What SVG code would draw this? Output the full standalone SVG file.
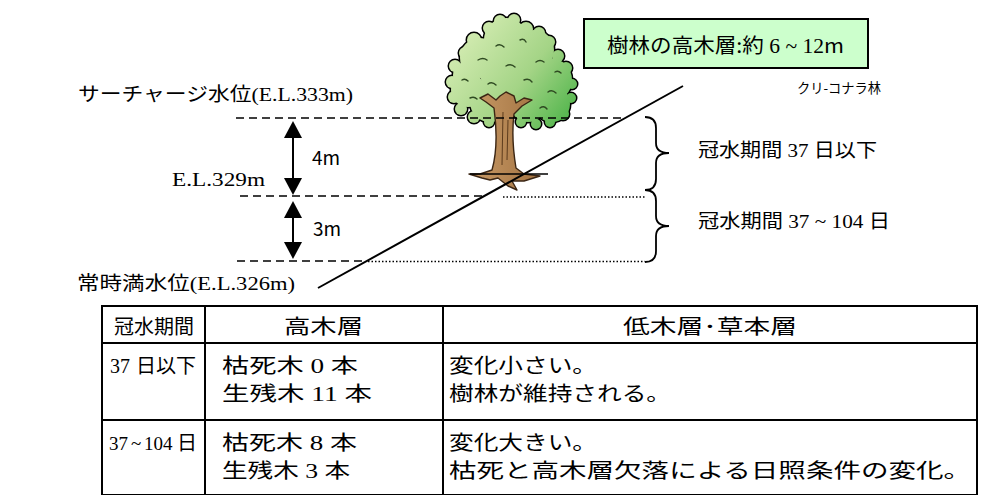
<svg xmlns="http://www.w3.org/2000/svg" xmlns:xlink="http://www.w3.org/1999/xlink" width="986" height="495" viewBox="0 0 986 495">
  <style>
    text { font-family: "Noto Sans CJK JP", "Noto Sans", sans-serif; fill: #000; }
    .num { font-family: "Liberation Serif", "Noto Sans CJK JP", serif; }
    .lbl { font-size: 19px; }
    .tbl { font-size: 20px; }
    .dash { stroke: #000; stroke-width: 1.6; stroke-dasharray: 8 5; fill: none; }
    .dot { stroke: #000; stroke-width: 1.3; stroke-dasharray: 1.5 2; fill: none; }
    .grid { stroke: #000; stroke-width: 2; fill: none; }
    .brace { stroke: #000; stroke-width: 1.8; fill: none; }
  </style>
  <defs>
    <linearGradient id="leaf" gradientUnits="userSpaceOnUse" x1="460" y1="30" x2="575" y2="120">
      <stop offset="0" stop-color="#d6edb4"/>
      <stop offset="0.55" stop-color="#a4d486"/>
      <stop offset="1" stop-color="#4cb348"/>
    </linearGradient>
    <linearGradient id="bark" x1="0" y1="0" x2="1" y2="0">
      <stop offset="0" stop-color="#c89a66"/>
      <stop offset="1" stop-color="#a37342"/>
    </linearGradient>
    <marker id="head" viewBox="0 0 17 18" refX="14" refY="9" markerWidth="17" markerHeight="18" markerUnits="userSpaceOnUse" orient="auto-start-reverse">
      <path d="M0 0 L17 9 L0 18 Z" fill="#000"/>
    </marker>
    <!-- crown silhouette: large lobes plus small edge bumps -->
    <g id="crown">
      <circle cx="506" cy="40" r="22"/>
      <circle cx="534" cy="50" r="20"/>
      <circle cx="480" cy="58" r="20"/>
      <circle cx="510" cy="72" r="30"/>
      <circle cx="550" cy="80" r="22"/>
      <circle cx="468" cy="90" r="17"/>
      <circle cx="490" cy="102" r="20"/>
      <circle cx="528" cy="104" r="18"/>
      <circle cx="552" cy="104" r="18"/>
      <circle cx="466" cy="75" r="13"/>
      <circle cx="500" cy="21" r="6"/>
      <circle cx="514" cy="20" r="6"/>
      <circle cx="526" cy="29" r="7"/>
      <circle cx="489" cy="28" r="6"/>
      <circle cx="474" cy="40" r="7"/>
      <circle cx="465" cy="53" r="6"/>
      <circle cx="455" cy="66" r="6"/>
      <circle cx="452" cy="82" r="6"/>
      <circle cx="454" cy="97" r="6"/>
      <circle cx="461" cy="109" r="6"/>
      <circle cx="474" cy="117" r="6"/>
      <circle cx="489" cy="122" r="5"/>
      <circle cx="521" cy="122" r="5"/>
      <circle cx="536" cy="124" r="5"/>
      <circle cx="550" cy="122" r="5"/>
      <circle cx="563" cy="114" r="6"/>
      <circle cx="571" cy="98" r="5"/>
      <circle cx="572" cy="84" r="5"/>
      <circle cx="566" cy="68" r="6"/>
      <circle cx="558" cy="56" r="6"/>
      <circle cx="549" cy="42" r="6"/>
      <circle cx="539" cy="33" r="6"/>
    </g>
  </defs>

  <rect width="986" height="495" fill="#fff"/>

  <!-- tree: outlined crown, trunk and roots -->
  <g id="tree">
    <use xlink:href="#crown" fill="#000" stroke="#000" stroke-width="3"/>
    <use xlink:href="#crown" fill="url(#leaf)"/>
    <g stroke="#2f4a22" stroke-width="1.4" fill="none" stroke-linecap="round">
      <path d="M496 46 q4 -3 8 1"/>
      <path d="M520 40 q4 -2 6 2"/>
      <path d="M478 60 q5 -3 9 0"/>
      <path d="M506 66 q5 -3 9 1"/>
      <path d="M536 62 q4 -3 8 0"/>
      <path d="M488 84 q4 -3 8 1"/>
      <path d="M524 80 q5 -2 8 2"/>
      <path d="M548 92 q4 -3 8 1"/>
      <path d="M470 98 q4 -2 7 1"/>
      <path d="M540 108 q4 -3 7 1"/>
      <path d="M462 80 q3 -2 6 1"/>
      <path d="M555 72 q3 -2 6 1"/>
    </g>
    <path d="M496 100 L488 94 L480 98 L486 102 L494 108 C497 130 497 152 492 170 L480 174 L469 174 L482 178 L490 180 L498 178 L508 186 L517 190 L512 181 L524 181 L540 176 L524 174 L516 168 C513 150 512 130 514 114 L522 106 L532 100 L524 98 L516 103 L514 96 L506 92 L500 96 Z" fill="url(#bark)" stroke="#3b2614" stroke-width="1.4" stroke-linejoin="round"/>
    <g stroke="#5c3b1c" stroke-width="1" fill="none">
      <path d="M503 112 L502 165"/>
      <path d="M508 120 L507 160"/>
    </g>
    <path d="M470 174 L548 174" stroke="#000" stroke-width="1.5"/>
  </g>

  <!-- water level lines, slope, dimension arrows and braces -->
  <g id="connectors">
    <path class="dash" d="M236 118 H624"/>
    <path class="dash" d="M240 196 H484"/>
    <path class="dot" d="M503 197 H645"/>
    <path class="dash" d="M237 261 H366"/>
    <path class="dot" d="M368 261.5 H645"/>
    <path d="M318 288 L683 86" stroke="#000" stroke-width="2" fill="none"/>
    <path d="M293 124 V192" stroke="#000" stroke-width="2" marker-start="url(#head)" marker-end="url(#head)"/>
    <path d="M293 204 V256" stroke="#000" stroke-width="2" marker-start="url(#head)" marker-end="url(#head)"/>
    <path class="brace" d="M645 117 Q656 117 656 128 L656 143 Q656 153 669 153 Q656 153 656 163 L656 179 Q656 190 645 190"/>
    <path class="brace" d="M645 190 Q656 190 656 201 L656 216 Q656 226 669 226 Q656 226 656 236 L656 251 Q656 262 645 262"/>
  </g>

  <!-- labels -->
  <g id="label-box">
    <rect x="584" y="19" width="284" height="49" fill="#ccffcc" stroke="#000" stroke-width="2"/>
    <text x="607" y="53" font-size="20" textLength="237" lengthAdjust="spacingAndGlyphs">樹林の高木層:約<tspan class="num"> 6 ~ 12</tspan>m</text>
  </g>
  <g id="label-forest"><text x="797" y="93" font-size="14" textLength="84" lengthAdjust="spacingAndGlyphs">クリ-コナラ林</text></g>
  <g id="label-surcharge"><text x="78" y="101" class="lbl" textLength="275" lengthAdjust="spacingAndGlyphs">サーチャージ水位<tspan class="num">(E.L.333m)</tspan></text></g>
  <g id="label-329"><text x="172" y="186" class="lbl num" textLength="93" lengthAdjust="spacingAndGlyphs">E.L.329m</text></g>
  <g id="label-4m"><text x="312" y="165" class="lbl">4m</text></g>
  <g id="label-3m"><text x="313" y="236" class="lbl">3m</text></g>
  <g id="label-normal"><text x="77" y="290" class="lbl" textLength="218" lengthAdjust="spacingAndGlyphs">常時満水位<tspan class="num">(E.L.326m)</tspan></text></g>
  <g id="label-period1"><text x="698" y="157" class="lbl" textLength="179" lengthAdjust="spacingAndGlyphs">冠水期間<tspan class="num"> 37 </tspan>日以下</text></g>
  <g id="label-period2"><text x="698" y="228" class="lbl" textLength="192" lengthAdjust="spacingAndGlyphs">冠水期間<tspan class="num"> 37 ~ 104 </tspan>日</text></g>

  <!-- summary table -->
  <g id="table">
    <rect class="grid" x="102" y="306" width="875" height="189"/>
    <path class="grid" d="M102 343 H977 M102 420 H977 M205 306 V495 M443 306 V495"/>
    <g class="tbl">
      <text x="154" y="334" text-anchor="middle">冠水期間</text>
      <text x="110" y="373"><tspan class="num">37</tspan><tspan x="136">日以下</tspan></text>
      <text x="109" y="450"><tspan class="num" font-size="19">37</tspan><tspan class="num" x="131" font-size="19">~</tspan><tspan class="num" x="144" font-size="19">104</tspan><tspan x="177">日</tspan></text>
      <text x="284" y="334" textLength="79" lengthAdjust="spacingAndGlyphs">高木層</text>
      <text x="623" y="334" textLength="174" lengthAdjust="spacingAndGlyphs">低木層･草本層</text>
      <text x="222" y="373" textLength="136" lengthAdjust="spacingAndGlyphs">枯死木<tspan class="num"> 0 </tspan>本</text>
      <text x="222" y="401" textLength="150" lengthAdjust="spacingAndGlyphs">生残木<tspan class="num"> 11 </tspan>本</text>
      <text x="449" y="373" textLength="148" lengthAdjust="spacingAndGlyphs">変化小さい。</text>
      <text x="449" y="401" textLength="222" lengthAdjust="spacingAndGlyphs">樹林が維持される。</text>
      <text x="222" y="450" textLength="135" lengthAdjust="spacingAndGlyphs">枯死木<tspan class="num"> 8 </tspan>本</text>
      <text x="222" y="478" textLength="128" lengthAdjust="spacingAndGlyphs">生残木<tspan class="num"> 3 </tspan>本</text>
      <text x="449" y="450" textLength="148" lengthAdjust="spacingAndGlyphs">変化大きい。</text>
      <text x="449" y="478" textLength="522" lengthAdjust="spacingAndGlyphs">枯死と高木層欠落による日照条件の変化。</text>
    </g>
  </g>
</svg>
